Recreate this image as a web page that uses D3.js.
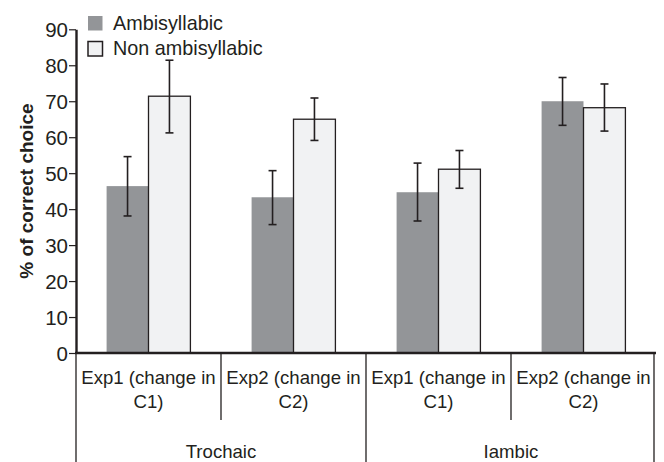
<!DOCTYPE html>
<html>
<head>
<meta charset="utf-8">
<script src="https://cdn.jsdelivr.net/npm/d3@7"></script>
<style>
  html, body { margin: 0; padding: 0; background: #fff; }
  svg { display: block; font-family: "Liberation Sans", Arial, Helvetica, sans-serif; }
</style>
</head>
<body>
<svg id="chart" width="664" height="462"></svg>
<script>
// ---- data ----
const groups = ["Trochaic", "Iambic"];
const categories = ["Trochaic|Exp1", "Trochaic|Exp2", "Iambic|Exp1", "Iambic|Exp2"];
const categoryLines1 = ["Exp1 (change in", "Exp2 (change in", "Exp1 (change in", "Exp2 (change in"];
const categoryLines2 = ["C1)", "C2)", "C1)", "C2)"];
const seriesNames = ["Ambisyllabic", "Non ambisyllabic"];
const ambisyllabic = [46.4, 43.3, 44.7, 70.0];
const ambisyllabicLow = [38.1, 35.7, 36.7, 63.3];
const ambisyllabicHigh = [54.6, 50.7, 52.8, 76.6];
const nonAmbisyllabic = [71.4, 65.0, 51.1, 68.2];
const nonAmbisyllabicLow = [61.2, 59.1, 45.8, 61.7];
const nonAmbisyllabicHigh = [81.4, 70.9, 56.3, 74.8];
const yTicks = [0, 10, 20, 30, 40, 50, 60, 70, 80, 90];

// ---- layout ----
const svg = d3.select("#chart");
const mLeft = 76, mRight = 656, mTop = 29.3, mBottom = 353;
const dark = "#939598", light = "#f1f2f3", ink = "#231f20";

const y = d3.scaleLinear().domain([0, 90]).range([mBottom, mTop]);
const x0 = d3.scaleBand().domain(categories).range([mLeft, mRight]).paddingInner(0).paddingOuter(0);
const x1 = d3.scaleBand().domain(seriesNames).range([0, x0.bandwidth()]).paddingInner(0).paddingOuter(0.73);
const xg = d3.scaleBand().domain(groups).range([mLeft, mRight]);

const series = [
  { name: seriesNames[0], vals: ambisyllabic, lo: ambisyllabicLow, hi: ambisyllabicHigh, fill: dark, stroke: "none" },
  { name: seriesNames[1], vals: nonAmbisyllabic, lo: nonAmbisyllabicLow, hi: nonAmbisyllabicHigh, fill: light, stroke: ink }
];

// bars
series.forEach(s => {
  svg.append("g").selectAll("rect").data(categories).join("rect")
    .attr("x", (c) => x0(c) + x1(s.name))
    .attr("y", (c, i) => y(s.vals[i]))
    .attr("width", x1.bandwidth())
    .attr("height", (c, i) => y(0) - y(s.vals[i]))
    .attr("fill", s.fill)
    .attr("stroke", s.stroke)
    .attr("stroke-width", 1.3);
});

// error bars
series.forEach(s => {
  const g = svg.append("g").attr("stroke", ink).attr("stroke-width", 1.6);
  categories.forEach((c, i) => {
    const cx = x0(c) + x1(s.name) + x1.bandwidth() / 2;
    g.append("line").attr("x1", cx).attr("x2", cx).attr("y1", y(s.lo[i])).attr("y2", y(s.hi[i]));
    g.append("line").attr("x1", cx - 4).attr("x2", cx + 4).attr("y1", y(s.lo[i])).attr("y2", y(s.lo[i]));
    g.append("line").attr("x1", cx - 4).attr("x2", cx + 4).attr("y1", y(s.hi[i])).attr("y2", y(s.hi[i]));
  });
});

// y axis
const yAxis = svg.append("g").attr("transform", `translate(${mLeft},0)`)
  .call(d3.axisLeft(y).tickValues(yTicks).tickSize(7).tickPadding(1).tickSizeOuter(0));
yAxis.select(".domain").attr("stroke", ink).attr("stroke-width", 2.4);
yAxis.selectAll(".tick line").attr("stroke", ink).attr("stroke-width", 1.2);
yAxis.selectAll(".tick text").attr("font-size", 20.5).attr("fill", ink).attr("dy", "0.36em")
  .attr("font-family", "'Liberation Sans', Arial, sans-serif");

// x axis baseline
svg.append("line").attr("x1", mLeft - 1).attr("x2", mRight).attr("y1", y(0)).attr("y2", y(0))
  .attr("stroke", ink).attr("stroke-width", 2.4);

// category dividers & labels
const lines = svg.append("g").attr("stroke", ink).attr("stroke-width", 1.3);
[mLeft, xg("Iambic"), mRight - 2].forEach(xx => {
  lines.append("line").attr("x1", xx).attr("x2", xx).attr("y1", y(0)).attr("y2", 462);
});
[x0(categories[1]), x0(categories[3])].forEach(xx => {
  lines.append("line").attr("x1", xx).attr("x2", xx).attr("y1", y(0)).attr("y2", 420);
});

const catText = svg.append("g").attr("font-size", 18.6).attr("fill", ink).attr("text-anchor", "middle");
categories.forEach((c, i) => {
  const cx = x0(c) + x0.bandwidth() / 2;
  catText.append("text").attr("x", cx).attr("y", 384).text(categoryLines1[i]);
  catText.append("text").attr("x", cx).attr("y", 408).text(categoryLines2[i]);
});
groups.forEach(g => {
  catText.append("text").attr("x", xg(g) + xg.bandwidth() / 2).attr("y", 458).text(g);
});

// y label
svg.append("text")
  .attr("transform", `translate(33,191) rotate(-90)`)
  .attr("text-anchor", "middle")
  .attr("font-size", 19).attr("font-weight", "bold").attr("fill", ink)
  .text("% of correct choice");

// legend
const legend = svg.append("g");
series.forEach((s, i) => {
  const ly = 16 + i * 25.5;
  legend.append("rect").attr("x", 88).attr("y", ly).attr("width", 14.5).attr("height", 14.5)
    .attr("fill", s.fill).attr("stroke", s.stroke).attr("stroke-width", 1.5);
  legend.append("text").attr("x", 113).attr("y", ly + 13.5).attr("font-size", 19.8).attr("fill", ink)
    .text(s.name);
});
</script>
</body>
</html>
